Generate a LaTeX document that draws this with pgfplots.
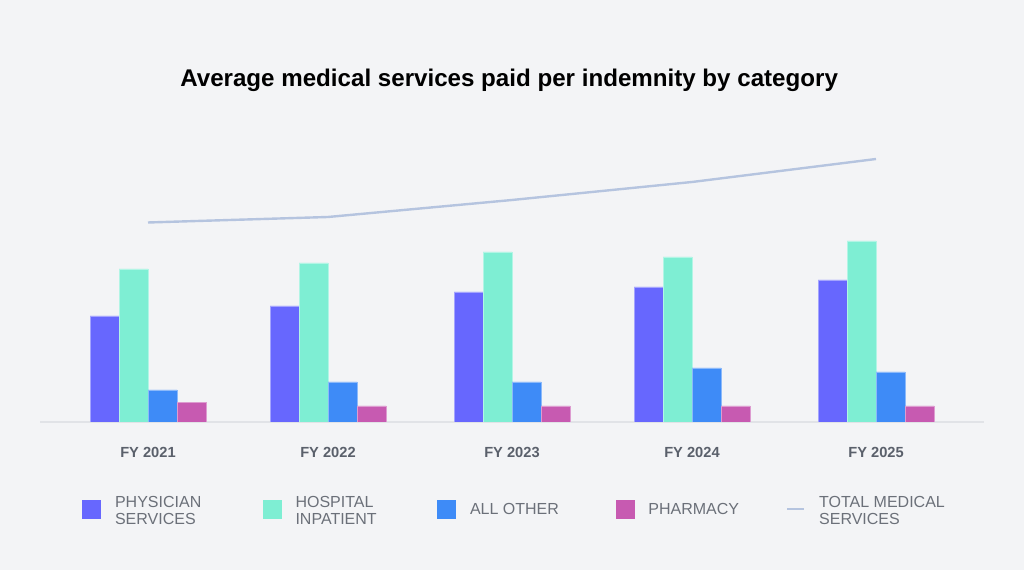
\documentclass[border=0pt]{standalone}
\usepackage{pgfplots}
\pgfplotsset{compat=1.18}
\usepackage{fontspec}
\setmainfont{Liberation Sans}

\definecolor{bgc}{HTML}{F3F4F6}
\definecolor{physc}{HTML}{6767FE}
\definecolor{hospc}{HTML}{7EEED3}
\definecolor{otherc}{HTML}{3E8BF7}
\definecolor{pharmc}{HTML}{C75AB1}
\definecolor{totalc}{HTML}{B5C4DF}
\definecolor{axisc}{HTML}{E1E3E7}
\definecolor{tickc}{HTML}{5A606B}
\definecolor{legc}{HTML}{6B7079}

% values in pixel units of the original picture (1px = 0.75pt)
% legend text: box width, vertical raise, lines
\newcommand{\legtxt}[3]{\makebox[#1][l]{\raisebox{#2}{\begin{tabular}{@{}l@{}}#3\end{tabular}}}}

\begin{document}
\begin{tikzpicture}
\path[use as bounding box, fill=bgc] (0,0) rectangle (768pt,427.5pt);
\begin{axis}[
  at={(30pt,111pt)}, anchor=south west,
  scale only axis,
  width=708pt, height=211.5pt,
  xmin=40, xmax=984, ymin=0, ymax=282,
  axis x line*=bottom,
  axis y line=none,
  x axis line style={draw=axisc, line width=1.2pt, -},
  xtick={148,328,512,692,876},
  xticklabels={FY 2021,FY 2022,FY 2023,FY 2024,FY 2025},
  major tick length=0pt,
  xticklabel style={font=\fontsize{11}{13}\selectfont\bfseries, text=tickc,
    inner sep=0pt, anchor=north, yshift=-19pt},
  title={Average medical services paid per indemnity by category},
  title style={font=\fontsize{18.1}{20}\selectfont\bfseries, text=black,
    at={(0.497,1.163)}, anchor=base, inner sep=0pt},
  legend columns=5,
  legend cell align=left,
  legend style={draw=none, fill=none, inner sep=0pt,
    at={(0.0445,-0.3085)}, anchor=west,
    nodes={inner sep=0pt},
    font=\fontsize{12}{12.75}\selectfont, text=legc,
    /tikz/every odd column/.append style={column sep=10.5pt}},
]
\addplot[ybar, bar width=21.75pt, bar shift=-32.625pt, fill=physc, draw=physc!60!white, line width=0.6pt,
  legend image code/.code={\fill[physc] (0pt,-6.75pt) rectangle (13.5pt,6.75pt);}]
  coordinates {(148,106) (328,116) (512,130) (692,135) (876,142)};
\addlegendentry{\legtxt{110.75pt}{3.4pt}{PHYSICIAN\\SERVICES}}
\addplot[ybar, bar width=21.75pt, bar shift=-10.875pt, fill=hospc, draw=hospc!60!white, line width=0.6pt,
  legend image code/.code={\fill[hospc] (0pt,-6.75pt) rectangle (13.5pt,6.75pt);}]
  coordinates {(148,153) (328,159) (512,170) (692,165) (876,181)};
\addlegendentry{\legtxt{106.25pt}{3.4pt}{HOSPITAL\\INPATIENT}}
\addplot[ybar, bar width=21.75pt, bar shift=10.875pt, fill=otherc, draw=otherc!60!white, line width=0.6pt,
  legend image code/.code={\fill[otherc] (0pt,-6.75pt) rectangle (13.5pt,6.75pt);}]
  coordinates {(148,32) (328,40) (512,40) (692,54) (876,50)};
\addlegendentry{\legtxt{109.25pt}{-1.5pt}{ALL OTHER}}
\addplot[ybar, bar width=21.75pt, bar shift=32.625pt, fill=pharmc, draw=pharmc!60!white, line width=0.6pt,
  legend image code/.code={\fill[pharmc] (0pt,-6.75pt) rectangle (13.5pt,6.75pt);}]
  coordinates {(148,19.5) (328,16) (512,16) (692,16) (876,16)};
\addlegendentry{\legtxt{103pt}{-1.5pt}{PHARMACY}}
\addplot[sharp plot, no markers, draw=totalc, line width=1.8pt,
  legend image code/.code={\draw[totalc, line width=1.8pt] (0pt,0pt) -- (12.75pt,0pt);}]
  coordinates {(148,199.5) (328,205) (512,222) (692,240) (876,263)};
\addlegendentry{\legtxt{100pt}{3.4pt}{TOTAL MEDICAL\\SERVICES}}
\end{axis}
\end{tikzpicture}
\end{document}
